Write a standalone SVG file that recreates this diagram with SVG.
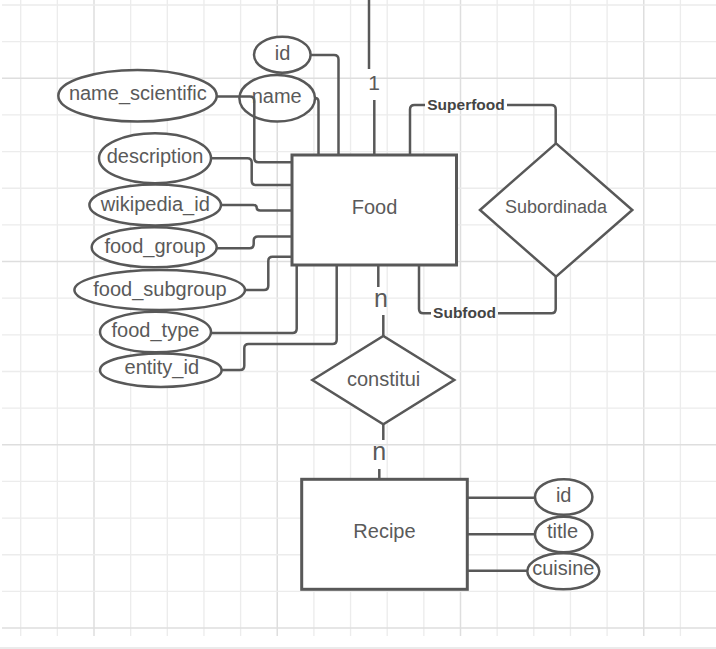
<svg xmlns="http://www.w3.org/2000/svg" width="716" height="649" viewBox="0 0 716 649">
<defs>
<style>
.minor{stroke:#ececec;stroke-width:1.3;fill:none}
.major{stroke:#dedede;stroke-width:1.5;fill:none}
.shape{fill:#ffffff;stroke:#585858;stroke-width:2.5}
.ent{fill:#ffffff;stroke:#585858;stroke-width:3}
.conn{fill:none;stroke:#585858;stroke-width:2.5;stroke-linejoin:round}
.t{font-family:"Liberation Sans",Arial,sans-serif;font-size:20px;fill:#5a5a5a;text-anchor:middle}
.lbl{font-family:"Liberation Sans",Arial,sans-serif;font-size:15.5px;font-weight:bold;fill:#444444;text-anchor:middle}
</style>
</defs>
<rect x="0" y="0" width="716" height="649" fill="#ffffff"/>
<g id="grid">
<path class="minor" d="M20.7,0V636M57.35,0V636M130.65,0V636M167.3,0V636M203.95,0V636M240.6,0V636M313.9,0V636M350.55,0V636M387.2,0V636M423.85,0V636M497.15,0V636M533.8,0V636M570.45,0V636M607.1,0V636M680.4,0V636"/>
<path class="major" d="M94,0V636M277.25,0V636M460.5,0V636M643.75,0V636"/>
<path class="minor" d="M2,5H716M2,41.65H716M2,114.95H716M2,151.6H716M2,188.25H716M2,224.9H716M2,298.2H716M2,334.85H716M2,371.5H716M2,408.15H716M2,481.45H716M2,518.1H716M2,554.75H716M2,591.4H716"/>
<path class="major" d="M2,78.3H716M2,261.55H716M2,444.8H716M2,628.05H716"/>
<path d="M0,648H716" stroke="#e4e4e4" stroke-width="1.5"/>
</g>
<g id="food">
<rect class="ent" x="292" y="155" width="164.5" height="110"/>
<text class="t" x="374.5" y="214.3">Food</text>
</g>
<g id="recipe">
<rect class="ent" x="301.7" y="479.3" width="165.6" height="110"/>
<text class="t" x="384.5" y="538.3">Recipe</text>
</g>
<g id="subordinada">
<polygon class="shape" points="480,210 556,143.3 632.3,210 556,276.7"/>
<text class="t" x="556" y="213.3" style="font-size:18px">Subordinada</text>
</g>
<g id="constitui">
<polygon class="shape" points="312.3,380 383.3,336 454.3,380 383.3,424.3"/>
<text class="t" x="383.6" y="386">constitui</text>
</g>
<g id="food-id">
<ellipse class="shape" cx="282.3" cy="54.7" rx="28.3" ry="18"/>
<text class="t" x="282.5" y="60">id</text>
</g>
<g id="food-name">
<ellipse class="shape" cx="277.2" cy="98.3" rx="37.8" ry="23.3"/>
<text class="t" x="276.7" y="102.7">name</text>
</g>
<g id="food-name-scientific">
<ellipse class="shape" cx="137.5" cy="95.8" rx="79.2" ry="25.8"/>
<text class="t" x="137.8" y="100">name_scientific</text>
</g>
<g id="food-description">
<ellipse class="shape" cx="155" cy="158.3" rx="56" ry="25"/>
<text class="t" x="155" y="163.3">description</text>
</g>
<g id="food-wikipedia-id">
<ellipse class="shape" cx="155.2" cy="205" rx="65.8" ry="20.5"/>
<text class="t" x="155.3" y="210.7">wikipedia_id</text>
</g>
<g id="food-food-group">
<ellipse class="shape" cx="154.2" cy="247.3" rx="62.5" ry="20"/>
<text class="t" x="155" y="253.3">food_group</text>
</g>
<g id="food-food-subgroup">
<ellipse class="shape" cx="159.7" cy="290" rx="85.3" ry="20"/>
<text class="t" x="160" y="296">food_subgroup</text>
</g>
<g id="food-food-type">
<ellipse class="shape" cx="155.5" cy="332" rx="55.5" ry="20.3"/>
<text class="t" x="155.5" y="337.3">food_type</text>
</g>
<g id="food-entity-id">
<ellipse class="shape" cx="160.8" cy="370.2" rx="60.8" ry="16.8"/>
<text class="t" x="161.8" y="374.3">entity_id</text>
</g>
<g id="recipe-id">
<ellipse class="shape" cx="563.7" cy="497" rx="28.7" ry="17.8"/>
<text class="t" x="563.7" y="501.7">id</text>
</g>
<g id="recipe-title">
<ellipse class="shape" cx="563.7" cy="534.5" rx="28.7" ry="17.8"/>
<text class="t" x="562.5" y="538.3">title</text>
</g>
<g id="recipe-cuisine">
<ellipse class="shape" cx="563.3" cy="571.3" rx="36" ry="18"/>
<text class="t" x="563.3" y="575">cuisine</text>
</g>
<g id="connectors">
<path class="conn" d="M310.7,55H334Q338.5,55 338.5,59.5V155"/>
<path class="conn" d="M315,98Q318.5,98 318.5,102V155"/>
<path class="conn" d="M216.7,96.5H250Q254.3,96.5 254.3,101V158Q254.3,162.3 258.6,162.3H292"/>
<path class="conn" d="M211,158.3H247.4Q251.7,158.3 251.7,162.6V180.7Q251.7,185 256,185H292"/>
<path class="conn" d="M221,205H253.2Q256.7,205 256.7,207.7Q256.7,210.4 260.2,210.4H292"/>
<path class="conn" d="M216.7,248.3H249.4Q253.7,248.3 253.7,244V240.8Q253.7,236.5 258,236.5H292"/>
<path class="conn" d="M245,290H264Q268.3,290 268.3,285.7V261Q268.3,256.7 272.6,256.7H292"/>
<path class="conn" d="M211,333H292.4Q296.7,333 296.7,328.7V265"/>
<path class="conn" d="M221.7,370H240Q244.3,370 244.3,365.7V348.3Q244.3,344 248.6,344H332.4Q336.7,344 336.7,339.7V265"/>
<path class="conn" d="M410,155V109.5Q410,105 414.5,105H425"/>
<path class="conn" d="M507,105H551.2Q555.7,105 555.7,109.5V143.3"/>
<text class="lbl" x="466" y="110">Superfood</text>
<path class="conn" d="M419,265V309Q419,313.3 423.3,313.3H431"/>
<path class="conn" d="M498,313.3H551.4Q555.7,313.3 555.7,309V276.7"/>
<text class="lbl" x="464.5" y="318">Subfood</text>
<path class="conn" d="M369,0V69"/>
<path class="conn" d="M374.3,100V155"/>
<text class="t" x="374" y="90" style="font-size:21px">1</text>
<path class="conn" d="M378.3,265V287"/>
<path class="conn" d="M383.3,315V336"/>
<text class="t" x="381" y="306.7" style="font-size:25px">n</text>
<path class="conn" d="M383.3,424.3V440"/>
<path class="conn" d="M379.3,469V479.3"/>
<text class="t" x="379.3" y="460" style="font-size:25px">n</text>
<path class="conn" d="M467.3,497.7H535"/>
<path class="conn" d="M467.3,534.3H535"/>
<path class="conn" d="M467.3,570.7H527.3"/>
</g>
</svg>
